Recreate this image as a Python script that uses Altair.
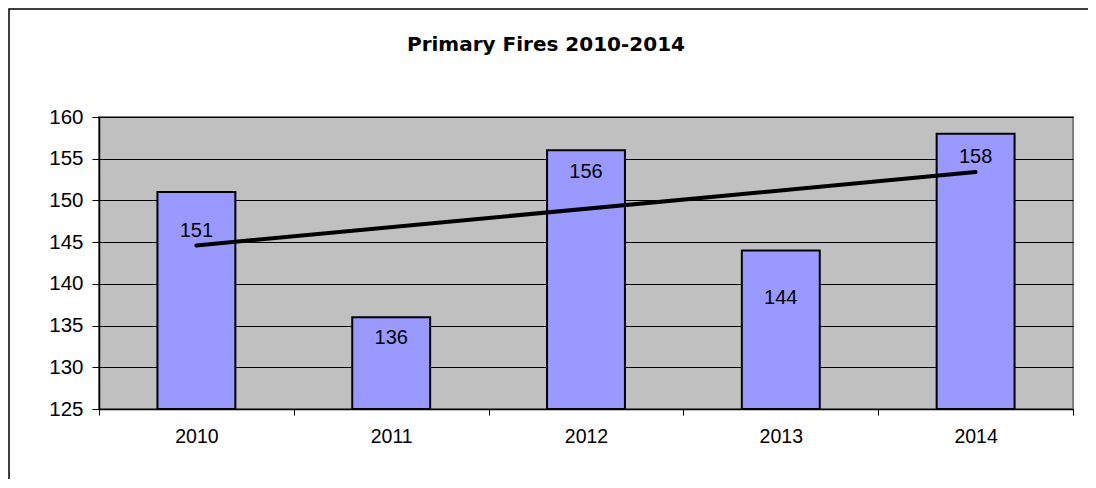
import altair as alt
import pandas as pd

years = [2010, 2011, 2012, 2013, 2014]
fires = [151, 136, 156, 144, 158]
# how far below the bar top each value label sits (in value units, as placed in the original)
label_drop = [4.7, 2.5, 2.6, 5.7, 2.8]
y_ticks = [125, 130, 135, 140, 145, 150, 155, 160]
title_text = "Primary Fires 2010-2014"

Y_MIN, Y_MAX = 125, 160
W, H = 974, 292
FONT = "Liberation Sans"

df = pd.DataFrame({"year": years, "fires": fires, "drop": label_drop})

x_enc = alt.X(
    "year:O",
    scale=alt.Scale(paddingInner=0, paddingOuter=0),
    axis=alt.Axis(
        title=None, labelAngle=0, tickBand="extent", grid=False,
        domainColor="black", domainWidth=1.5, tickColor="black", tickSize=6,
        labelFont=FONT, labelFontSize=19.5, labelColor="black", labelPadding=12,
    ),
)
y_scale = alt.Scale(domain=[Y_MIN, Y_MAX], zero=False, nice=False)

base = alt.Chart(df)

bars = base.mark_bar(
    width=alt.RelativeBandSize(0.4), color="#9999FF", stroke="black", strokeWidth=2
).encode(
    x=x_enc,
    y=alt.Y(
        "fires:Q", scale=y_scale,
        axis=alt.Axis(
            title=None, values=y_ticks, grid=True, gridColor="black", gridWidth=1,
            gridOpacity=1, domainColor="black", domainWidth=1.5, tickColor="black",
            tickSize=7, labelFont=FONT, labelFontSize=20.5, labelColor="black",
            labelPadding=9,
        ),
    ),
    y2=alt.datum(Y_MIN),
)

labels = base.transform_calculate(pos="datum.fires - datum.drop").mark_text(
    font=FONT, fontSize=20, color="black", baseline="middle"
).encode(x=x_enc, y=alt.Y("pos:Q", scale=y_scale), text="fires:Q")

trend = base.transform_regression("year", "fires").mark_line(
    color="black", strokeWidth=4, strokeCap="round"
).encode(x=x_enc, y=alt.Y("fires:Q", scale=y_scale))

title = alt.Chart(pd.DataFrame({"t": [title_text]})).mark_text(
    font="DejaVu Sans", fontSize=20, fontWeight="bold", color="black",
    baseline="alphabetic"
).encode(x=alt.value(447), y=alt.value(-66.5), text="t:N")

border = alt.Chart(pd.DataFrame({"a": [0]})).mark_rect(
    fill=None, stroke="black", strokeWidth=1.5
).encode(x=alt.value(-90), y=alt.value(-108), x2=alt.value(W + 40), y2=alt.value(H + 120))

chart = alt.layer(border, title, bars, trend, labels).properties(
    width=W, height=H,
    autosize=alt.AutoSizeParams(type="none"),
    padding={"left": 91, "top": 109, "right": 15, "bottom": 70},
    background="white",
).configure_view(fill="#C0C0C0", stroke="#808080", strokeWidth=2)

chart.save("out.html", embed_options={"renderer": "svg", "actions": False})
